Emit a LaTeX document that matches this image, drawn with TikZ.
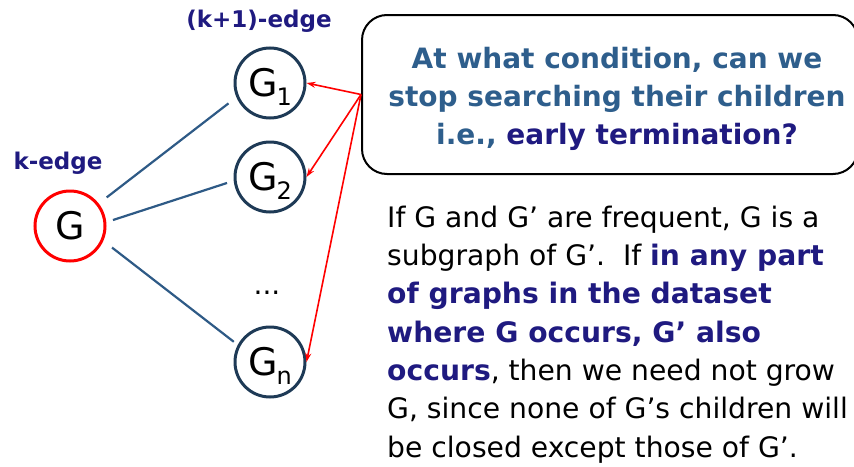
\documentclass[tikz,border=0pt]{standalone}
\usepackage{fontspec}
\setmainfont{DejaVu Sans}
\usetikzlibrary{arrows.meta}
\definecolor{navy}{RGB}{31,26,128}
\definecolor{steel}{RGB}{46,94,140}
\definecolor{circ}{RGB}{30,58,86}
\definecolor{linkblue}{RGB}{46,90,134}
\newcommand\subidx[1]{\kern-1pt\smash{\raisebox{-9pt}{\fontsize{24}{24}\selectfont #1}}}
\begin{document}
\begin{tikzpicture}[x=1pt,y=-1pt,
  child/.style={circle,draw=circ,line width=3pt,minimum size=70pt,inner sep=0pt,
    font=\fontsize{38}{38}\selectfont},
  link/.style={draw=linkblue,line width=2.2pt},
  pointer/.style={draw=red,line width=1.6pt,-{Stealth[length=9pt,width=6pt]}},
  edgelabel/.style={font=\bfseries\fontsize{23}{23}\selectfont,text=navy,inner sep=0pt},
  bodyline/.style={anchor=base west,inner sep=0pt,font=\fontsize{28.2}{28.2}\selectfont}
]
\useasboundingbox (0,0) rectangle (854,466);
% nodes
\node[child,draw=red] (g) at (70,226) {G};
\node[child] (g1) at (270,83) {G\subidx{1}};
\node[child] (g2) at (270,177) {G\subidx{2}};
\node[child] (gn) at (270,362) {G\subidx{n}};
\node[inner sep=0pt,font=\fontsize{28}{28}\selectfont] (dots) at (267,293) {...};
\node[edgelabel] (klab) at (58,163) {k-edge};
\node[edgelabel] (k1lab) at (259,21) {(k+1)-edge};
% links
\draw[link,shorten <=10pt,shorten >=10pt] (g.38) -- (g1.203);
\draw[link,shorten <=7pt,shorten >=7pt] (g.6) -- (g2.186);
\draw[link,shorten <=11pt,shorten >=5pt] (g.-24) -- (gn.152);
% question box
\node[draw=black,line width=2pt,rounded corners=25pt,minimum width=496pt,minimum height=159pt] (box) at (610,94.5) {};
\node[inner sep=0pt,align=center,font=\bfseries\fontsize{28}{38}\selectfont,text=steel] (question) at (617,99)
  {At what condition, can we\\stop searching their children\\i.e., \textcolor{navy}{early termination?}};
\coordinate (q) at (box.west);
\draw[pointer] (q) -- (g1.east);
\draw[pointer] (q) -- (g2.east);
\draw[pointer] (q) -- (gn.east);
% body text
\node[bodyline] (b1) at (387,227) {If G and G’ are frequent, G is a};
\node[bodyline] (b2) at (387,265) {subgraph of G’.\ \ If \textcolor{navy}{\bfseries in any part}};
\node[bodyline,text=navy,font=\bfseries\fontsize{28.2}{28.2}\selectfont] (b3) at (387,303) {of graphs in the dataset};
\node[bodyline,text=navy,font=\bfseries\fontsize{28.2}{28.2}\selectfont] (b4) at (387,342) {where G occurs, G’ also};
\node[bodyline] (b5) at (387,380) {\textcolor{navy}{\bfseries occurs}, then we need not grow};
\node[bodyline] (b6) at (387,418) {G, since none of G’s children will};
\node[bodyline] (b7) at (387,457) {be closed except those of G’.};
\end{tikzpicture}
\end{document}
